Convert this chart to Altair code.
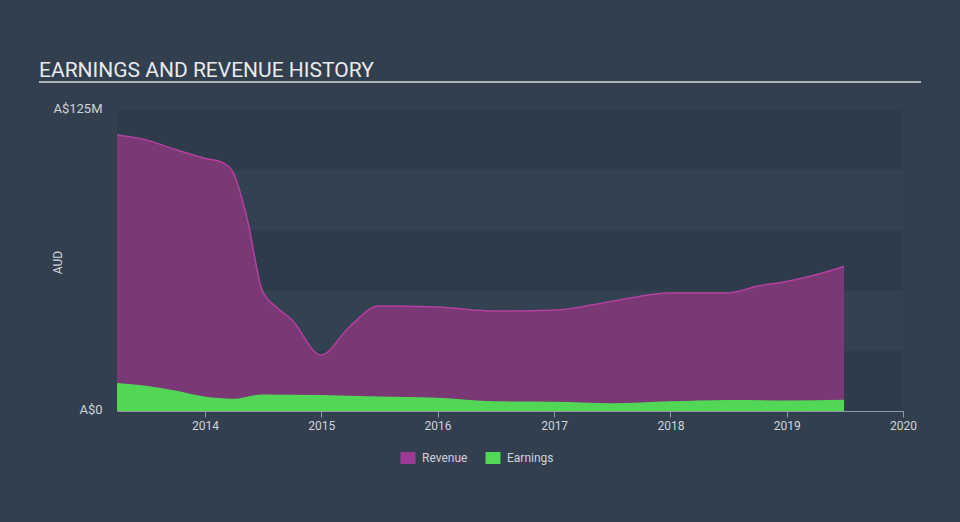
import altair as alt
import pandas as pd

# ---- data (values in A$ millions) ----
rev_dates = ["2013-03-31", "2013-06-30", "2013-09-30", "2013-12-31", "2014-02-28",
             "2014-03-31", "2014-05-15", "2014-06-30", "2014-08-15", "2014-09-30",
             "2014-12-31", "2015-03-31", "2015-06-30", "2015-12-31", "2016-06-30",
             "2016-12-31", "2017-06-30", "2017-12-31", "2018-06-30", "2018-09-30",
             "2018-12-31", "2019-03-31", "2019-06-30"]
rev_vals = [114.6, 112.6, 108.6, 105.0, 103.0,
            99.0, 79.0, 50.0, 43.0, 38.0,
            23.3, 35.0, 43.6, 43.2, 41.5,
            41.8, 45.5, 49.0, 49.0, 51.8,
            53.8, 56.5, 60.0]

earn_dates = ["2013-03-31", "2013-06-30", "2013-09-30", "2013-12-31", "2014-03-31",
              "2014-06-30", "2014-12-31", "2015-06-30", "2015-12-31", "2016-06-30",
              "2016-12-31", "2017-06-30", "2017-12-31", "2018-06-30", "2018-12-31",
              "2019-06-30"]
earn_vals = [11.6, 10.5, 8.5, 6.0, 5.1,
             6.9, 6.6, 6.0, 5.5, 4.0,
             3.8, 3.2, 4.0, 4.6, 4.4,
             4.7]

band_lo = [0, 25, 50, 75, 100]
band_hi = [25, 50, 75, 100, 125]
band_kind = ["dark", "light", "dark", "light", "dark"]

series_names = ["Revenue", "Earnings"]
year_ticks = [2014, 2015, 2016, 2017, 2018, 2019, 2020]

rev_df = pd.DataFrame({"date": rev_dates, "value": rev_vals})
earn_df = pd.DataFrame({"date": earn_dates, "value": earn_vals})
band_df = pd.DataFrame({"lo": band_lo, "hi": band_hi, "kind": band_kind})
legend_df = pd.DataFrame({"series": series_names, "date": [rev_dates[0]] * 2, "value": [0, 0]})

W, H = 786, 301

x_scale = alt.Scale(domain=[alt.DateTime(year=2013, month=3, date=31),
                            alt.DateTime(year=2020, month=1, date=1)])
y_scale = alt.Scale(domain=[0, 125], nice=False)

x_axis = alt.Axis(values=[alt.DateTime(year=y, month=1, date=1) for y in year_ticks],
                  format="%Y", title=None, grid=False,
                  domainColor="#8e9aa7", tickColor="#8e9aa7", tickSize=6,
                  labelColor="#d0d4d9", labelFontSize=12, labelFont="Roboto",
                  labelPadding=3, labelFlush=False)
y_axis = alt.Axis(values=[0, 125], grid=False, domain=False, ticks=False,
                  labelExpr="datum.value == 0 ? 'A$0' : 'A$' + datum.value + 'M'",
                  labelColor="#d0d4d9", labelFontSize=13, labelFont="Roboto",
                  labelPadding=15, labelOffset=-2, title="AUD", titleColor="#d0d4d9",
                  titleFontSize=12, titleFont="Roboto", titleFontWeight="normal",
                  titleAngle=270, titleX=-53, titleY=152)

bands = alt.Chart(band_df).mark_rect().encode(
    x=alt.value(0), x2=alt.value(W),
    y=alt.Y("lo:Q", scale=y_scale, axis=y_axis, title="AUD"), y2="hi:Q",
    fill=alt.Fill("kind:N", scale=alt.Scale(domain=["dark", "light"],
                                            range=["#2e3b4a", "#334251"]), legend=None),
)

revenue = alt.Chart(rev_df).mark_area(
    interpolate="monotone", color="#7a3874", opacity=1, fillOpacity=1,
    line=alt.LineConfig(color="#b4409f", strokeWidth=1.5)
).encode(x=alt.X("date:T", scale=x_scale, axis=x_axis),
         y=alt.Y("value:Q", scale=y_scale, title="AUD"))

earnings = alt.Chart(earn_df).mark_area(
    interpolate="monotone", color="#51d656", opacity=1, fillOpacity=1
).encode(x=alt.X("date:T", scale=x_scale), y=alt.Y("value:Q", scale=y_scale, title="AUD"))

legend_layer = alt.Chart(legend_df).transform_filter("false").mark_point(
    filled=True, shape="square"
).encode(
    x=alt.X("date:T", scale=x_scale),
    y=alt.Y("value:Q", scale=y_scale, title="AUD"),
    color=alt.Color("series:N",
                    scale=alt.Scale(domain=series_names, range=["#9c3a94", "#4fd955"]),
                    legend=alt.Legend(title=None, orient="none", direction="horizontal",
                                      legendX=285, legendY=342,
                                      symbolType="M-1.25,-1H1.25V1H-1.25Z",
                                      symbolSize=144, symbolOpacity=1,
                                      symbolStrokeWidth=0,
                                      labelColor="#d0d4d9", labelFontSize=12,
                                      labelFont="Roboto", labelOffset=8,
                                      columnPadding=17)),
)

title_text = alt.Chart(pd.DataFrame({"t": ["EARNINGS AND REVENUE HISTORY"]})).mark_text(
    align="left", baseline="alphabetic", font="Roboto", fontSize=21, color="#e8eaed"
).encode(text="t:N", x=alt.value(-78), y=alt.value(-33))

underline = alt.Chart(pd.DataFrame({"a": [0]})).mark_rule(
    color="#aab1b9", strokeWidth=2
).encode(x=alt.value(-78), x2=alt.value(804), y=alt.value(-28))

chart = alt.layer(bands, revenue, earnings, legend_layer, title_text, underline).resolve_scale(
    fill="independent", color="independent"
).properties(
    width=W, height=H,
    background="#323f4f",
    padding={"left": 117, "top": 110, "right": 57, "bottom": 111},
    autosize=alt.AutoSizeParams(type="none"),
).configure_view(stroke=None)

chart.save("out.html", embed_options={"renderer": "svg", "actions": False})
